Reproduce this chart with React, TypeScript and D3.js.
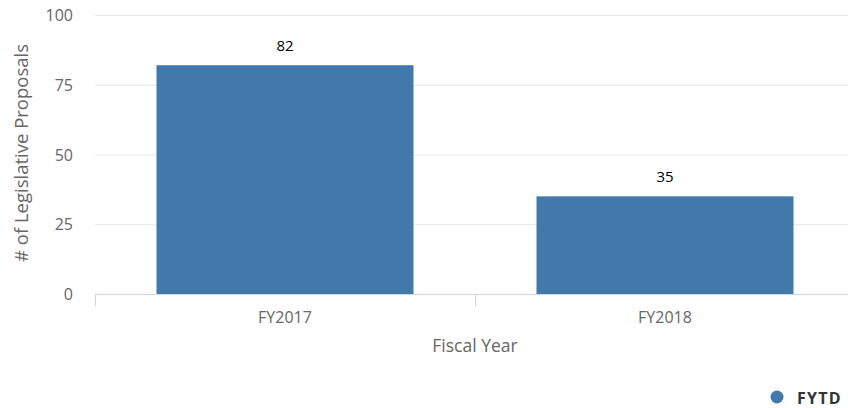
import React from "react";
import * as d3 from "d3";

const categories = ["FY2017", "FY2018"];
const values = [82, 35];
const yTicks = [0, 25, 50, 75, 100];
const seriesName = "FYTD";

export default function App() {
  const W = 848, H = 408;
  const left = 95, right = 855, top = 15, bottom = 294;
  const x = d3.scaleBand<string>().domain(categories).range([left, right]).paddingInner(0).paddingOuter(0);
  const y = d3.scaleLinear().domain([0, 100]).range([bottom, top]);
  const barW = 257;
  const color = "#4279ab";
  const font = "'Open Sans', 'DejaVu Sans', sans-serif";
  const boundaries = [left, ...categories.map((c) => (x(c) as number) + x.bandwidth())];
  return (
    <svg width={W} height={H} style={{ position: "absolute", left: 0, top: 0 }} fontFamily={font}>
      <rect width={W} height={H} fill="#fff" />
      {yTicks.map((t) => (
        <g key={t}>
          {t !== 0 && <line x1={left} x2={W} y1={y(t) + 0.5} y2={y(t) + 0.5} stroke="#e6e6e6" strokeWidth={1} />}
          <text x={73} y={y(t) + 6} textAnchor="end" fontSize={16} fill="#666">{t}</text>
        </g>
      ))}
      {categories.map((c, i) => {
        const cx = (x(c) as number) + x.bandwidth() / 2;
        return (
          <g key={c}>
            <rect x={cx - barW / 2} y={y(values[i])} width={barW} height={bottom - y(values[i])} fill={color} />
            <text x={cx} y={y(values[i]) - 14} textAnchor="middle" fontSize={15} fill="#000">{values[i]}</text>
            <text x={cx} y={323} textAnchor="middle" fontSize={16} fill="#666">{c}</text>
          </g>
        );
      })}
      <line x1={left} x2={W} y1={bottom + 0.5} y2={bottom + 0.5} stroke="#ccd6eb" strokeWidth={1} />
      {boundaries.map((b, i) => (
        <line key={i} x1={b + 0.5} x2={b + 0.5} y1={bottom} y2={bottom + 12} stroke="#ccd6eb" strokeWidth={1} />
      ))}
      <text x={(left + right) / 2} y={352} textAnchor="middle" fontSize={17.5} fill="#666">Fiscal Year</text>
      <text transform={`translate(28,153) rotate(-90)`} textAnchor="middle" fontSize={18.5} fill="#666"># of Legislative Proposals</text>
      <circle cx={777} cy={397} r={6.5} fill={color} />
      <text x={797} y={404} fontSize={16} fontWeight="bold" letterSpacing={1.2} fill="#333">{seriesName}</text>
    </svg>
  );
}
